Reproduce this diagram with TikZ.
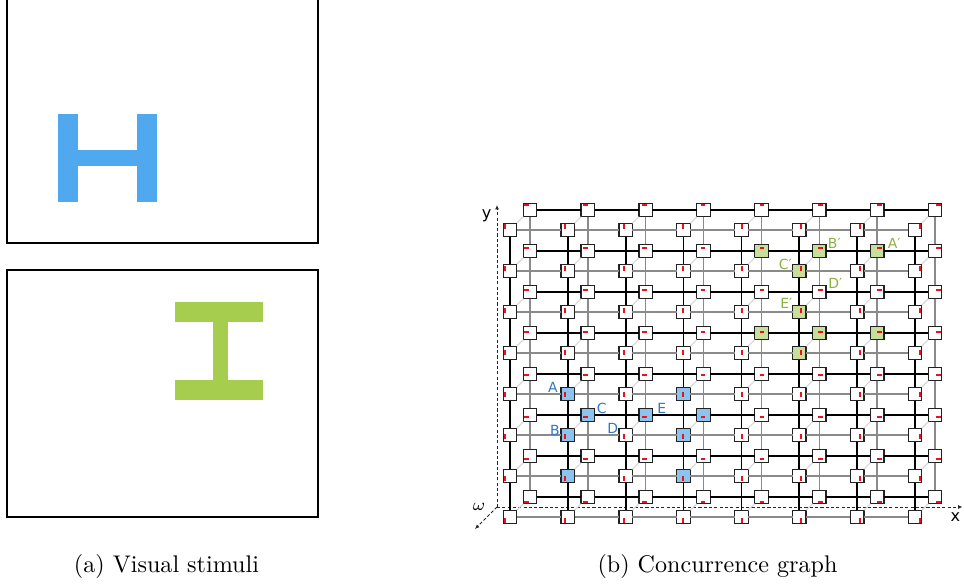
\documentclass[tikz,border=0pt]{standalone}
\usepackage{fontspec}
\newfontfamily\dejavu{DejaVu Sans}
\usetikzlibrary{arrows.meta,calc}
\definecolor{hblue}{HTML}{50A8EE}
\definecolor{igreen}{HTML}{A7CD4F}
\definecolor{nblue}{HTML}{8CC4F0}
\definecolor{ngreen}{HTML}{C8DF9C}
\definecolor{lblue}{HTML}{3378C0}
\definecolor{lgreen}{HTML}{8DB043}
\definecolor{mred}{HTML}{E8121A}
\definecolor{edgegray}{HTML}{8A8A8A}
\definecolor{diaggray}{HTML}{D8D8D8}
\definecolor{nodeborder}{HTML}{222222}
\tikzset{
  unit/.style={draw=nodeborder, line width=0.55pt, fill=white, minimum size=5.6pt, inner sep=0pt, outer sep=0pt},
  strongedge/.style={draw=black, line width=0.7pt},
  weakedge/.style={draw=edgegray, line width=0.6pt},
  diagedge/.style={draw=diaggray, line width=0.45pt},
  axisline/.style={draw=black!85, line width=0.4pt, dash pattern=on 1.3pt off 0.9pt, -{Latex[length=1.8pt,width=1.6pt]}},
  lab/.style={font=\dejavu\fontsize{5.8}{6.5}\selectfont, inner sep=0pt},
  axlab/.style={font=\dejavu\fontsize{6.7}{7.5}\selectfont, inner sep=0pt, anchor=base},
  col f-1-4/.style={fill=nblue}, col f-1-5/.style={fill=nblue}, col f-1-6/.style={fill=nblue},
  col f-3-4/.style={fill=nblue}, col f-3-5/.style={fill=nblue}, col f-3-6/.style={fill=nblue},
  col b-1-5/.style={fill=nblue}, col b-2-5/.style={fill=nblue}, col b-3-5/.style={fill=nblue},
  col b-4-1/.style={fill=ngreen}, col b-5-1/.style={fill=ngreen}, col b-6-1/.style={fill=ngreen},
  col b-4-3/.style={fill=ngreen}, col b-5-3/.style={fill=ngreen}, col b-6-3/.style={fill=ngreen},
  col f-5-1/.style={fill=ngreen}, col f-5-2/.style={fill=ngreen}, col f-5-3/.style={fill=ngreen},
}
\begin{document}
\begin{tikzpicture}[x=0.415pt,y=-0.415pt]
\path[use as bounding box] (0,0) rectangle (964,585);
\clip (0,0) rectangle (964,585);

% ---------- (a) visual stimuli ----------
\draw[line width=0.85pt] (7,-10) rectangle (318,243);
\draw[line width=0.85pt] (7,270) rectangle (318,517);
\fill[hblue] (58,114) rectangle (78,202);
\fill[hblue] (137,114) rectangle (157,202);
\fill[hblue] (77,150) rectangle (138,166);
\fill[igreen] (175,302) rectangle (263,322);
\fill[igreen] (175,380) rectangle (263,400);
\fill[igreen] (213,321) rectangle (228,381);
\node[anchor=base] (capa) at (166.5,572.5) {(a) Visual stimuli};

% ---------- (b) concurrence graph ----------
\coordinate (o) at (497,507);
\coordinate (ytip) at (497,205);
\coordinate (xtip) at (962.5,507);
\coordinate (wtip) at (475,529);
\draw[axisline] (o) -- (ytip);
\draw[axisline] (o) -- (xtip);
\draw[axisline] (o) -- (wtip);
\node[axlab] (ylab) at (486.7,218.2) {y};
\node[axlab] (xlab) at (955.5,521.7) {x};
\node[inner sep=0pt, anchor=base, font=\fontsize{7.5}{8}\selectfont] (wlab) at (479,511) {$\omega$};

% nodes
\foreach \i in {0,...,7}{
  \foreach \j in {0,...,7}{
    \pgfmathsetmacro\fx{510+57.857*\i}
    \pgfmathsetmacro\fy{230+41*\j}
    \pgfmathsetmacro\bx{530+57.857*\i}
    \pgfmathsetmacro\by{210+41*\j}
    \node[unit, col b-\i-\j/.try] (b-\i-\j) at (\bx,\by) {};
    \node[unit, col f-\i-\j/.try] (f-\i-\j) at (\fx,\fy) {};
  }
}
% orientation marks
\foreach \i in {0,...,7}{
  \foreach \j in {0,...,7}{
    \pgfmathsetmacro\fdx{-4.6+\i*9.2/7}
    \pgfmathsetmacro\fdy{-3.6+\j*7.2/7}
    \pgfmathsetmacro\bdx{-3.6+\i*7.2/7}
    \pgfmathsetmacro\bdy{-4.6+\j*9.2/7}
    \fill[mred] ($(f-\i-\j.center)+(\fdx,\fdy)+(-0.95,-2.4)$) rectangle +(1.9,4.8);
    \fill[mred] ($(b-\i-\j.center)+(\bdx,\bdy)+(-2.4,-0.95)$) rectangle +(4.8,1.9);
  }
}
% connectors
\foreach \i in {0,...,7}{
  \foreach \j in {0,...,7}{
    \draw[diagedge] (f-\i-\j) -- (b-\i-\j);
  }
  \foreach \j [count=\k] in {0,...,6}{
    \draw[weakedge] (f-\j-\i) -- (f-\k-\i);
    \draw[weakedge] (b-\i-\j) -- (b-\i-\k);
    \draw[strongedge] (f-\i-\j) -- (f-\i-\k);
    \draw[strongedge] (b-\j-\i) -- (b-\k-\i);
  }
}
% labels
\node[lab, text=lblue] (lA) at ($(f-1-4)+(-15,-7)$) {A};
\node[lab, text=lblue] (lB) at ($(f-1-5)+(-13,-5)$) {B};
\node[lab, text=lblue] (lC) at ($(b-1-5)+(14,-7)$) {C};
\node[lab, text=lblue] (lD) at ($(f-2-5)+(-13,-7)$) {D};
\node[lab, text=lblue] (lE) at ($(b-2-5)+(16,-7)$) {E};
\node[lab, text=lgreen] (lA') at ($(b-6-1)+(17,-8)$) {A′};
\node[lab, text=lgreen] (lB') at ($(b-5-1)+(15,-8)$) {B′};
\node[lab, text=lgreen] (lC') at ($(f-5-1)+(-14,-7)$) {C′};
\node[lab, text=lgreen] (lD') at ($(b-5-2)+(16,-9)$) {D′};
\node[lab, text=lgreen] (lE') at ($(f-5-2)+(-13,-9)$) {E′};

\node[anchor=base] (capb) at (717.5,572.5) {(b) Concurrence graph};
\end{tikzpicture}
\end{document}
